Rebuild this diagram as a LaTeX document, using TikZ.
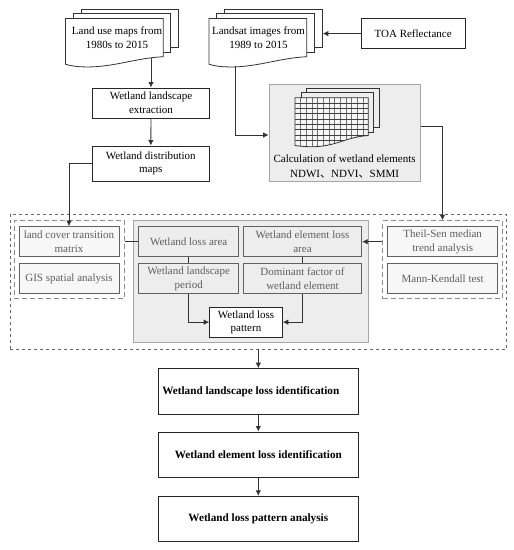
\documentclass[tikz,border=0pt]{standalone}
\usepackage{fontspec}
\setmainfont{Liberation Serif}
\newfontfamily\cjk{Noto Sans CJK SC}
\usetikzlibrary{arrows.meta}
\definecolor{panelgray}{HTML}{EDEDED}
\definecolor{edgegray}{HTML}{A6A6A6}
\definecolor{softtext}{HTML}{5F5F5F}
\tikzset{
    darrow/.style={-{Latex[length=5.5pt,width=5.5pt]}, line width=0.8pt, draw=black!80},
    dline/.style={line width=0.8pt, draw=black!80},
    blackbox/.style={draw=black!85, line width=1pt, fill=white, align=center, inner sep=0pt, font=\fontsize{11}{13.6}\selectfont},
    boldbox/.style={blackbox, font=\fontsize{11.2}{14}\selectfont\bfseries},
    softbox/.style={draw=black!62, line width=1pt, fill=white!97!black, text=softtext, align=center, inner sep=0pt, minimum width=100pt, minimum height=30pt, font=\fontsize{11}{13.6}\selectfont},
    graybox/.style={softbox, fill=panelgray},
    panel/.style={draw=edgegray, line width=0.8pt, fill=panelgray, inner sep=0pt},
    groupbox/.style={draw=black!45, dash pattern=on 5pt off 3pt, line width=0.9pt, inner sep=0pt},
    outerbox/.style={draw=black!60, dash pattern=on 3pt off 3pt, line width=0.6pt, inner sep=0pt},
    sheet/.style={draw=black!80, line width=0.8pt, fill=white},
    rowline/.style={draw=black!75, line width=0.5pt},
    colline/.style={draw=black!55, line width=0.35pt},
}
% one sheet of a stack: left, top, right, bottom of the straight part
\newcommand{\wavesheet}[5][sheet]{
    \draw[#1] (#2,#3) -- (#4,#3) -- (#4,#5)
        .. controls ({#4-30},{#5+1.5}) and ({#2+45},{#5+12}) .. ({#2+14},{#5+10})
        .. controls ({#2+8},{#5+9.6}) and ({#2+3},{#5+8.5}) .. (#2,{#5+7.5}) -- cycle;
}
\begin{document}
\begin{tikzpicture}[x=1pt, y=-1pt]
    \useasboundingbox (0,0) rectangle (514,550);

    % outer dashed frame and the groups in it
    \node[outerbox, minimum width=496.7pt, minimum height=134.7pt] (frame) at (258.35,281.65) {};
    \node[panel, minimum width=235pt, minimum height=122.3pt] (losspanel) at (250.8,281.15) {};
    \node[groupbox, minimum width=110.3pt, minimum height=78pt] (leftgroup) at (69.15,259.7) {};
    \node[groupbox, minimum width=119.6pt, minimum height=78pt] (rightgroup) at (442.5,259.7) {};

    % first document stack
    \draw[sheet] (81,9) rectangle (178.5,47.3);
    \draw[sheet] (73,13.5) rectangle (170.5,52.3);
    \wavesheet{65.5}{18.5}{163.3}{56.7}
    \node[align=center, font=\fontsize{11}{13.6}\selectfont, minimum width=97.8pt, minimum height=38pt, inner sep=0pt] (landuse) at (117,37.8) {Land use maps from\\1980s to 2015};
    \coordinate (landuseout) at (151,58);

    % second document stack
    \draw[sheet] (224.7,9) rectangle (322.3,47.3);
    \draw[sheet] (216.7,13.5) rectangle (314.3,52.3);
    \wavesheet{209}{18.5}{306.7}{56.7}
    \node[align=center, font=\fontsize{11}{13.6}\selectfont, minimum width=97.7pt, minimum height=38pt, inner sep=0pt] (landsat) at (258.5,37.8) {Landsat images from\\1989 to 2015};
    \coordinate (landsatout) at (235,66.3);

    \node[blackbox, minimum width=103.7pt, minimum height=30.2pt] (toa) at (413.15,33.6) {TOA Reflectance};
    \node[blackbox, minimum width=117pt, minimum height=30pt] (extract) at (151,103) {Wetland landscape\\extraction};
    \node[blackbox, minimum width=117.5pt, minimum height=35pt] (distmap) at (150.75,163.5) {Wetland distribution\\maps};

    % calculation panel with the grid stack
    \node[panel, minimum width=151.3pt, minimum height=96.7pt] (calc) at (344.65,132.65) {};
    \draw[sheet, fill=panelgray] (306.3,88) rectangle (379.7,127.3);
    \draw[sheet, fill=panelgray] (301,92.3) rectangle (373.7,132.6);
    \begin{scope}
        \clip (295,97.7) -- (368.3,97.7) -- (368.3,135.5) .. controls (345,137) and (335,147.5) .. (309,146.7) .. controls (303,146.5) and (298,146) .. (295,145.5) -- cycle;
        \fill[panelgray!50] (295,97.7) rectangle (368.3,148);
        \foreach \i in {1,...,12}
            \draw[colline] ({295+\i*5.64},97) -- ({295+\i*5.64},148);
        \foreach \j in {1,...,8}
            \draw[rowline] (295,{97.7+\j*5.3}) -- (368.3,{97.7+\j*5.3});
    \end{scope}
    \draw[sheet, fill=none] (295,97.7) -- (368.3,97.7) -- (368.3,135.5) .. controls (345,137) and (335,147.5) .. (309,146.7) .. controls (303,146.5) and (298,146) .. (295,145.5) -- cycle;
    \node[align=center, font=\fontsize{11}{14.5}\selectfont, inner sep=0pt] (calctext) at (344.6,166.3) {Calculation of wetland elements\\NDWI{\cjk 、}NDVI{\cjk 、}SMMI};

    % left group
    \node[softbox] (matrix) at (69,241.7) {land cover transition\\matrix};
    \node[softbox] (gis) at (69,278.7) {GIS spatial analysis};

    % right group
    \node[softbox, minimum width=110pt] (theil) at (442.7,241.7) {Theil-Sen median\\trend analysis};
    \node[softbox, minimum width=110pt] (mann) at (442.7,278.7) {Mann-Kendall test};

    % loss panel
    \node[graybox] (lossarea) at (188.7,241.7) {Wetland loss area};
    \node[graybox] (period) at (188.7,278.7) {Wetland landscape\\period};
    \node[graybox, minimum width=118.4pt] (elemarea) at (302.5,241.7) {Wetland element loss\\area};
    \node[graybox, minimum width=118.4pt] (factor) at (302.5,278.7) {Dominant factor of\\wetland element};
    \node[blackbox, minimum width=72.6pt, minimum height=30.3pt] (pattern) at (246,322.15) {Wetland loss\\pattern};

    % result boxes
    \node[boldbox, minimum width=200pt, minimum height=45.3pt] (result1) at (258.3,391.35) {\hspace*{-15pt}Wetland landscape loss identification};
    \node[boldbox, minimum width=200pt, minimum height=45.3pt] (result2) at (258.3,454.65) {Wetland element loss identification};
    \node[boldbox, minimum width=200pt, minimum height=45.3pt] (result3) at (258.3,519) {Wetland loss pattern analysis};

    \draw[darrow] (landuseout) -- (extract.north -| landuseout);
    \draw[darrow] (extract) -- (distmap);
    \draw[darrow] (toa) -- (322.8,33.6);
    \draw[darrow] (landsatout) |- (calc.west |- 0,135);
    \draw[darrow] (distmap.west) -| (matrix.north);
    \draw[darrow] (calc.east |- 0,126.5) -| (rightgroup.north);
    \draw[dline] (leftgroup.east |- lossarea) -- (lossarea);
    \draw[darrow] (rightgroup.west |- elemarea) -- (elemarea);
    \draw[dline] (lossarea) -- (period);
    \draw[dline] (elemarea) -- (factor);
    \draw[darrow] (period) |- (pattern);
    \draw[darrow] (factor) |- (pattern);
    \draw[darrow] (result1.north |- frame.south) -- (result1);
    \draw[darrow] (result1) -- (result2);
    \draw[darrow] (result2) -- (result3);
\end{tikzpicture}
\end{document}
